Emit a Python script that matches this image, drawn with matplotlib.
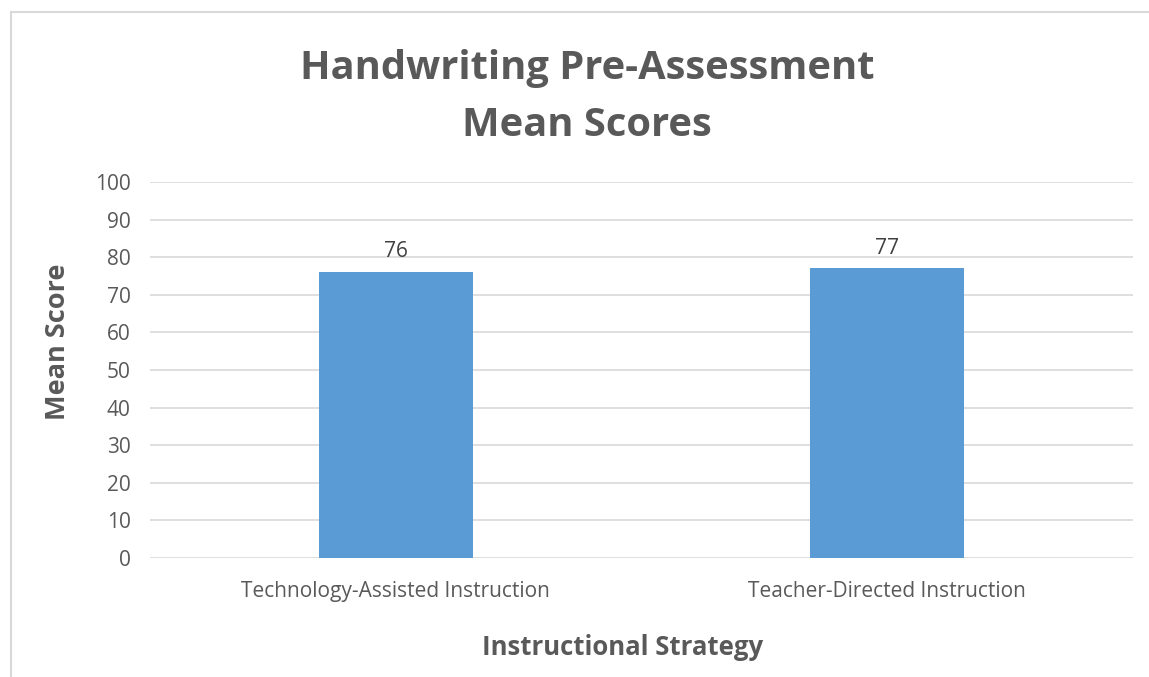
import matplotlib.pyplot as plt
from matplotlib.lines import Line2D

categories = ['Technology-Assisted Instruction', 'Teacher-Directed Instruction']
mean_scores = [76, 77]
y_ticks = [0, 10, 20, 30, 40, 50, 60, 70, 80, 90, 100]

plt.rcParams['font.family'] = ['Open Sans', 'DejaVu Sans']

fig = plt.figure(figsize=(11.49, 6.77), dpi=100)
ax = fig.add_axes([0.1305, 0.1758, 0.8556, 0.5554])

x = range(len(categories))
bars = ax.bar(x, mean_scores, width=0.313, color='#5B9BD5', zorder=3)
for b, v in zip(bars, mean_scores):
    ax.annotate(str(v), (b.get_x() + b.get_width() / 2, v), xytext=(0, 7),
                textcoords='offset points', ha='center', va='bottom',
                fontsize=15, color='#404040')

ax.set_xlim(-0.5, 1.5)
ax.set_ylim(0, 100)
ax.set_yticks(y_ticks)
ax.set_xticks(list(x))
ax.set_xticklabels(categories)
ax.grid(axis='y', color='#d9d9d9', linewidth=1.2, zorder=0)
for s in ax.spines.values():
    s.set_visible(False)
ax.tick_params(length=0, labelsize=15, labelcolor='#595959')
ax.tick_params(axis='y', pad=14)
ax.tick_params(axis='x', pad=16.5)

ax.set_ylabel('Mean Score', fontsize=19.5, fontweight='bold', color='#595959', va='center')
ax.yaxis.set_label_coords(-0.0936, 0.574)
ax.set_xlabel('Instructional Strategy', fontsize=18.5, fontweight='bold', color='#595959', va='center')
ax.xaxis.set_label_coords(0.481, -0.238)

fig.text(0.511, 0.857, 'Handwriting Pre-Assessment\nMean Scores', ha='center', va='center',
         fontsize=28.7, fontweight='bold', color='#595959', linespacing=1.6)

# chart area border (left and top edges)
fig.add_artist(Line2D([11 / 1149, 11 / 1149], [0, 1 - 12 / 677], transform=fig.transFigure,
                      color='#d9d9d9', linewidth=1.5))
fig.add_artist(Line2D([11 / 1149, 1], [1 - 12 / 677, 1 - 12 / 677], transform=fig.transFigure,
                      color='#d9d9d9', linewidth=1.5))

plt.savefig('out.png')
